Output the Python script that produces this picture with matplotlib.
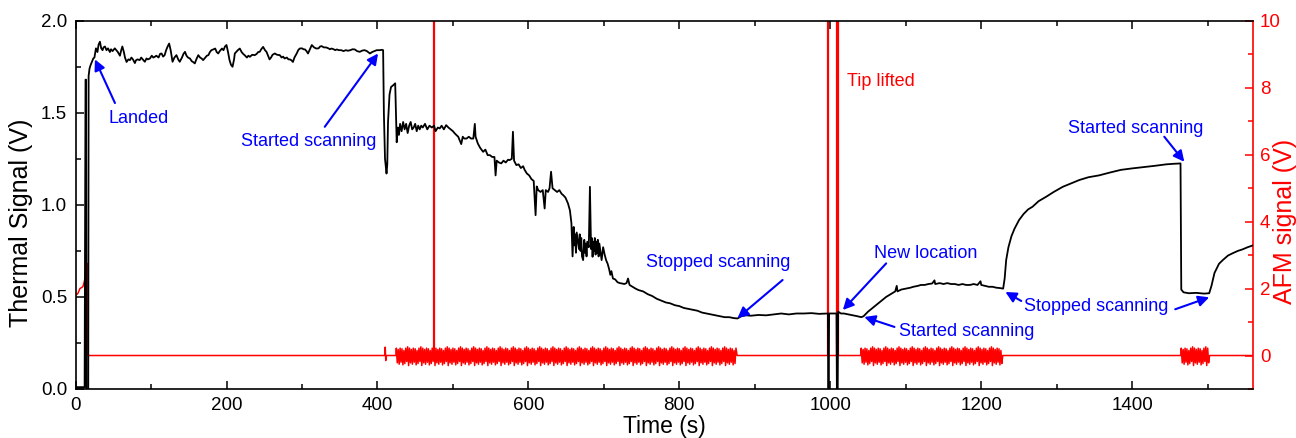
import numpy as np
import matplotlib
matplotlib.use("Agg")
import matplotlib.pyplot as plt
from matplotlib.ticker import MultipleLocator

plt.rcParams['font.family'] = ['Liberation Sans', 'DejaVu Sans']

# ---------------- data ----------------
# Thermal signal (left axis, V) -- landing, plateau
plateau_t = [0, 12, 13.2, 13.9, 14.3, 16.8, 17.3, 18.5, 20, 22, 23.5, 25, 27, 29, 30.5, 32.3, 34, 35.8, 37, 39,
             41, 43, 45.5, 47, 49, 52, 54, 56, 58.8, 60.5, 62, 64, 65.5, 67.6, 70, 72, 74, 76, 78.6, 80,
             82, 85, 87, 89, 91.8, 94, 96, 98.5, 101, 103, 105, 107, 110, 112, 114, 116, 118, 120, 122, 124,
             126, 128.5, 131, 133.7, 136, 138, 141, 143, 145, 147, 149, 151.5, 154, 156, 158, 160, 162.6, 165, 167, 169,
             172, 174, 176, 178, 180, 183, 185, 187, 189, 191, 194, 196, 198, 200, 202, 204, 206, 208, 210, 211,
             213, 215, 217.6, 220, 222, 224, 227, 229, 231, 234, 237.5, 240, 242, 244, 246, 248.5, 251, 253, 255, 257,
             259, 261, 264, 267, 270.6, 273, 275, 277, 280, 282, 284, 286, 288, 290, 293, 295, 297, 300, 302, 304,
             306, 308, 310, 313, 316, 319, 322, 324, 326, 329, 332, 335, 337, 339, 342, 344, 346, 349, 352, 355,
             358, 361, 364, 367, 370, 373, 376.5, 380, 383, 386, 390, 393, 396, 399, 403, 406, 407.5]
plateau_v = [0.01, 0.01, 1.68, 1.68, 0.0, 0.0, 1.70, 1.74, 1.76, 1.78, 1.795, 1.80, 1.85, 1.83, 1.87, 1.886, 1.85, 1.84, 1.855, 1.86,
             1.84, 1.85, 1.83, 1.845, 1.835, 1.85, 1.84, 1.83, 1.81, 1.84, 1.86, 1.83, 1.80, 1.776, 1.79, 1.786, 1.80, 1.79, 1.77, 1.785,
             1.79, 1.786, 1.80, 1.79, 1.777, 1.795, 1.79, 1.795, 1.81, 1.80, 1.804, 1.81, 1.80, 1.82, 1.822, 1.805, 1.813, 1.84, 1.86, 1.876,
             1.84, 1.777, 1.80, 1.813, 1.79, 1.777, 1.80, 1.82, 1.831, 1.81, 1.80, 1.795, 1.78, 1.775, 1.768, 1.79, 1.813, 1.80, 1.795, 1.786,
             1.80, 1.81, 1.813, 1.83, 1.84, 1.845, 1.849, 1.83, 1.822, 1.835, 1.849, 1.84, 1.86, 1.868, 1.83, 1.786, 1.76, 1.75, 1.79, 1.822,
             1.831, 1.84, 1.849, 1.83, 1.82, 1.813, 1.80, 1.81, 1.804, 1.815, 1.813, 1.82, 1.83, 1.831, 1.845, 1.858, 1.84, 1.831, 1.81, 1.79,
             1.80, 1.815, 1.822, 1.815, 1.813, 1.80, 1.805, 1.795, 1.80, 1.79, 1.79, 1.785, 1.776, 1.80, 1.822, 1.84, 1.849, 1.85, 1.845, 1.844,
             1.835, 1.822, 1.84, 1.868, 1.855, 1.849, 1.85, 1.86, 1.862, 1.855, 1.855, 1.85, 1.845, 1.849, 1.845, 1.84, 1.844, 1.84, 1.84, 1.835,
             1.84, 1.837, 1.84, 1.845, 1.844, 1.835, 1.831, 1.838, 1.84, 1.835, 1.822, 1.83, 1.835, 1.84, 1.84, 1.842, 1.84]

# Thermal signal -- first scanning period (decay)
decay_t = [408.5, 410, 412, 413, 414, 416, 418, 421, 423.5, 424.5, 425.5, 427, 428.5, 430, 432, 434, 436, 438, 440, 442,
           444, 446, 448, 450, 452, 454, 456, 458, 460, 463, 466, 469, 472, 475, 477, 480, 482.5, 485, 488, 491,
           494, 497, 500, 502, 504.6, 507, 509, 511, 513, 515, 518, 521, 524, 527, 529, 530, 533, 536, 540, 543,
           546, 549, 552, 555, 556.5, 558, 561, 564, 567, 570, 573, 575, 578, 579.5, 581, 584, 587, 590, 593, 595,
           598, 601, 604, 607, 609.5, 611, 613, 616, 619, 621.5, 623, 626, 628, 630, 632, 635, 638, 641, 644, 646,
           649, 652.4, 655, 657, 658.5, 660, 661, 662, 663, 664, 665.7, 667, 668, 669, 670, 671, 672.5, 674, 675, 676,
           677, 678, 680, 681.5, 683, 684, 685, 686, 687, 688, 689, 690, 691, 692, 693, 694, 695, 697, 699, 701,
           703, 705, 707, 708.5, 710, 712, 715, 718, 721, 724, 727, 730,
           732, 734, 738, 742, 746, 752, 758, 764, 770, 776, 782, 788, 794, 800, 806, 812, 818, 824, 830, 836,
           842, 848, 854, 860, 866, 872, 877]
decay_v = [1.50, 1.25, 1.17, 1.22, 1.45, 1.60, 1.64, 1.65, 1.66, 1.50, 1.34, 1.42, 1.38, 1.44, 1.40, 1.45, 1.41, 1.44, 1.39, 1.43,
           1.45, 1.41, 1.42, 1.44, 1.40, 1.43, 1.41, 1.43, 1.42, 1.44, 1.41, 1.43, 1.42, 1.43, 1.40, 1.42, 1.415, 1.43, 1.41, 1.433,
           1.42, 1.41, 1.40, 1.39, 1.379, 1.37, 1.35, 1.33, 1.37, 1.36, 1.36, 1.37, 1.36, 1.36, 1.44, 1.37, 1.333, 1.31, 1.288, 1.30,
           1.27, 1.27, 1.26, 1.26, 1.16, 1.24, 1.23, 1.225, 1.24, 1.23, 1.245, 1.243, 1.25, 1.397, 1.24, 1.216, 1.22, 1.20, 1.21, 1.19,
           1.17, 1.16, 1.14, 1.13, 0.944, 1.10, 1.08, 1.07, 1.08, 0.98, 1.08, 1.07, 1.09, 1.18, 1.09, 1.08, 1.07, 1.08, 1.06, 1.053,
           1.04, 1.008, 0.97, 0.90, 0.72, 0.88, 0.78, 0.84, 0.74, 0.85, 0.80, 0.76, 0.84, 0.75, 0.82, 0.72, 0.70, 0.81, 0.74, 0.79,
           0.72, 0.80, 0.77, 1.098, 0.76, 0.82, 0.718, 0.80, 0.75, 0.82, 0.73, 0.80, 0.74, 0.81, 0.72, 0.79, 0.76, 0.70, 0.77, 0.73,
           0.699, 0.68, 0.65, 0.62, 0.64, 0.60, 0.595, 0.58, 0.575, 0.573, 0.57, 0.575,
           0.60, 0.565, 0.555, 0.545, 0.537, 0.53, 0.515, 0.505, 0.49, 0.48, 0.47, 0.465, 0.455, 0.45, 0.44, 0.435, 0.43, 0.425, 0.415, 0.41,
           0.405, 0.40, 0.395, 0.39, 0.39, 0.385, 0.383]

# Thermal signal -- idle, tip lift, new location, later scans
late_t = [882, 888, 895, 905, 915, 925, 935, 945, 955, 965, 975, 985, 995, 996.8, 997.3, 997.9, 998.4, 1008.2, 1008.7, 1009.8,
          1010.4, 1014, 1018, 1024, 1030, 1036, 1041, 1044, 1050, 1056, 1062, 1068, 1074, 1080, 1086, 1088, 1089, 1094, 1100, 1106,
          1110, 1116, 1120, 1125, 1130, 1135, 1138, 1139, 1145, 1150, 1155, 1160, 1165, 1170, 1175, 1180, 1185, 1190, 1195, 1199,
          1200, 1205, 1210, 1215, 1220, 1225, 1229, 1231, 1233, 1236, 1240, 1244, 1250, 1256, 1262, 1268, 1276, 1286, 1296, 1308,
          1318, 1330, 1342, 1356, 1370, 1385, 1400, 1415, 1430, 1445, 1455, 1464, 1465, 1468, 1475, 1485, 1495, 1502, 1505, 1509,
          1515, 1520, 1527, 1533, 1540, 1546, 1553, 1560]
late_v = [0.395, 0.40, 0.398, 0.402, 0.40, 0.405, 0.41, 0.405, 0.41, 0.41, 0.412, 0.408, 0.41, 0.41, 0.0, 0.0, 0.41, 0.41, 0.0, 0.0,
          0.42, 0.41, 0.41, 0.405, 0.40, 0.395, 0.39, 0.395, 0.42, 0.44, 0.46, 0.48, 0.50, 0.515, 0.53, 0.56, 0.53, 0.54, 0.545, 0.55,
          0.555, 0.56, 0.565, 0.565, 0.57, 0.573, 0.59, 0.57, 0.575, 0.57, 0.575, 0.57, 0.57, 0.565, 0.57, 0.565, 0.565, 0.57, 0.565, 0.585,
          0.565, 0.56, 0.555, 0.555, 0.55, 0.548, 0.545, 0.60, 0.70, 0.77, 0.83, 0.87, 0.917, 0.95, 0.975, 0.99, 1.02, 1.044, 1.07, 1.098,
          1.115, 1.135, 1.15, 1.16, 1.175, 1.19, 1.198, 1.205, 1.212, 1.22, 1.223, 1.225, 0.54, 0.525, 0.52, 0.522, 0.518, 0.52, 0.56, 0.63,
          0.68, 0.70, 0.725, 0.737, 0.75, 0.758, 0.77, 0.78]

# AFM signal (right axis, V) -- baseline points
afm_t = [0, 3, 5.8, 8, 9.8, 11.8, 13.8, 15.1, 16.2, 16.5, 409.5, 410.3, 411.0, 411.8, 424.5,
         876.5, 1040.5, 1228.5, 1464.5, 1502.5, 1560]
afm_v = [1.8, 1.85, 2.0, 2.03, 2.06, 2.23, 2.47, 2.72, 2.75, 0, 0, 0.25, -0.15, 0, 0,
         0, 0, 0, 0, 0, 0]
# AFM raster oscillation while scanning: windows (s) and one read repeat unit (V)
scan_start = [425, 1041, 1465]
scan_end = [876, 1228, 1502]
scan_pattern = [0.22, -0.22, 0.18, -0.26, 0.22, -0.20, 0.20, -0.28, 0.15, -0.24, 0.22, -0.18, 0.26, -0.30]
scan_step = 1.25
# AFM spikes off-scale (tip lift events)
spike_t = [475, 997.5, 1008.6, 1010.2]
spike_top = 12

# ---------------- build ----------------
thermal_t = np.array(plateau_t + decay_t + late_t)
thermal_v = np.array(plateau_v + decay_v + late_v)

at = list(afm_t)
av = list(afm_v)
for s0, s1 in zip(scan_start, scan_end):
    ts = np.arange(s0, s1, scan_step)
    at += list(ts)
    av += list(np.resize(scan_pattern, len(ts)))
order = np.argsort(at, kind='stable')
at = np.array(at)[order]
av = np.array(av)[order]

fig = plt.figure(figsize=(12.96, 4.38), dpi=100)
ax1 = fig.add_axes([0.0583, 0.1119, 0.9085, 0.8408])
ax2 = ax1.twinx()

RED = '#ff0000'
BLUE = '#0000ff'

ax2.plot(at, av, color=RED, lw=1.1, zorder=2)
ax2.vlines(spike_t, 0, spike_top, color=RED, lw=1.6, zorder=2)
ax2.set_ylim(-1, 10)
ax1.plot(thermal_t, thermal_v, color='black', lw=1.3, zorder=3)
ax1.set_zorder(ax2.get_zorder() + 1)
ax1.patch.set_visible(False)

ax1.set_xlim(0, 1560)
ax1.set_ylim(0, 2.0)

ax1.xaxis.set_major_locator(MultipleLocator(200))
ax1.xaxis.set_minor_locator(MultipleLocator(100))
ax1.yaxis.set_major_locator(MultipleLocator(0.5))
ax1.yaxis.set_minor_locator(MultipleLocator(0.25))
ax1.yaxis.set_major_formatter(matplotlib.ticker.FormatStrFormatter('%.1f'))
ax2.yaxis.set_major_locator(MultipleLocator(2))
ax2.yaxis.set_minor_locator(MultipleLocator(1))

ax1.tick_params(which='both', direction='in', top=True, right=False, labelsize=13.5, width=1.1, pad=6)
ax1.tick_params(which='major', length=6)
ax1.tick_params(which='minor', length=3.5)
ax2.tick_params(which='both', direction='in', colors=RED, labelsize=13.5, width=1.1, pad=5)
ax2.tick_params(which='major', length=6)
ax2.tick_params(which='minor', length=3.5)

for sp in ['left', 'top', 'bottom']:
    ax2.spines[sp].set_visible(False)
ax1.spines['right'].set_visible(False)
ax2.spines['right'].set_color(RED)
ax2.spines['right'].set_linewidth(1.2)
for sp in ['left', 'top', 'bottom']:
    ax1.spines[sp].set_linewidth(1.2)

ax1.set_xlabel('Time (s)', fontsize=16.5, va='center')
ax1.xaxis.set_label_coords(0.5, -0.103)
ax1.set_ylabel('Thermal Signal (V)', fontsize=18, va='center')
ax1.yaxis.set_label_coords(-0.0465, 0.45)
ax2.set_ylabel('AFM signal (V)', fontsize=18, color=RED, rotation=90, va='center')
ax2.yaxis.set_label_coords(1.0272, 0.455)

# ---------------- annotations ----------------
arrow = dict(arrowstyle='-|>', color=BLUE, lw=1.5, mutation_scale=16, shrinkA=0, shrinkB=0)
arrows = [((52.2, 1.553), (25.7, 1.790)),
          ((330.2, 1.424), (400.8, 1.822)),
          ((936.8, 0.592), (877.1, 0.385)),
          ((1074, 0.682), (1016.6, 0.429)),
          ((1085, 0.337), (1045, 0.391)),
          ((1253, 0.478), (1232, 0.527)),
          ((1457, 0.433), (1502, 0.498)),
          ((1442.5, 1.370), (1469, 1.234))]
for tail, tip in arrows:
    ax1.annotate('', xy=tip, xytext=tail, arrowprops=arrow, zorder=5)

texts = [('Landed', 84, 1.471, BLUE),
         ('Started scanning', 309, 1.343, BLUE),
         ('Stopped scanning', 852, 0.689, BLUE),
         ('New location', 1126, 0.737, BLUE),
         ('Started scanning', 1181, 0.311, BLUE),
         ('Tip lifted', 1067, 1.668, RED),
         ('Stopped scanning', 1352, 0.447, BLUE),
         ('Started scanning', 1405, 1.415, BLUE)]
for s, x, y, c in texts:
    ax1.text(x, y, s, color=c, fontsize=13, ha='center', va='center', zorder=6)

fig.savefig('out.png', dpi=100)
